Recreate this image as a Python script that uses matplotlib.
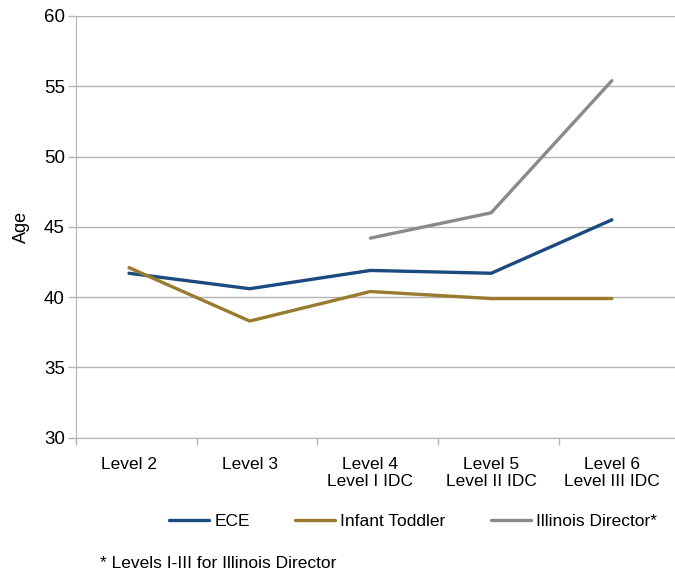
import matplotlib.pyplot as plt
import numpy as np
from matplotlib.ticker import FixedLocator

plt.rcParams['font.family'] = ['Liberation Sans', 'DejaVu Sans']

# Data
levels = ['Level 2', 'Level 3', 'Level 4\nLevel I IDC', 'Level 5\nLevel II IDC',
          'Level 6\nLevel III IDC']
ece = [41.7, 40.6, 41.9, 41.7, 45.5]
infant_toddler = [42.1, 38.3, 40.4, 39.9, 39.9]
illinois_director = [np.nan, np.nan, 44.2, 46.0, 55.4]
y_ticks = [30, 35, 40, 45, 50, 55, 60]

fig = plt.figure(figsize=(6.75, 5.71), dpi=100)
ax = fig.add_axes([0.1126, 0.2334, 0.8874, 0.7386])

x = np.arange(len(levels))
ax.plot(x, ece, color='#1b4a80', lw=2.4, solid_capstyle='round', label='ECE', zorder=3)
ax.plot(x, infant_toddler, color='#9a7a2e', lw=2.4, solid_capstyle='round',
        label='Infant Toddler', zorder=3)
ax.plot(x, illinois_director, color='#8a8a8a', lw=2.4, solid_capstyle='round',
        label='Illinois Director*', zorder=3)

# Axes limits and ticks
ax.set_xlim(-0.439, 4.523)
ax.set_ylim(30, 60)
ax.set_yticks(y_ticks)
ax.set_xticks(x)
ax.set_xticklabels(levels, fontsize=12.5, linespacing=1.15)
ax.tick_params(axis='x', length=0, pad=14)
ax.xaxis.set_minor_locator(FixedLocator(np.arange(-0.439, 4.5, 1.0)))
ax.tick_params(axis='x', which='minor', length=5, color='#b3b3b3', width=1)
ax.tick_params(axis='y', length=6, color='#b3b3b3', width=1, labelsize=13.5, pad=2)

# Grid and spines
ax.grid(True, axis='y', color='#b3b3b3', lw=1)
ax.set_axisbelow(True)
for side in ['top', 'right']:
    ax.spines[side].set_visible(False)
ax.spines['left'].set_color('#b3b3b3')
ax.spines['bottom'].set_color('#b3b3b3')

ax.set_ylabel('Age', fontsize=13, labelpad=10)

# Legend and footnote
fig.legend(loc='center', bbox_to_anchor=(0.612, 0.086), ncol=3, frameon=False,
           fontsize=12.5, handlelength=2.3, handletextpad=0.3, columnspacing=2.6)
fig.text(0.148, 0.006, '* Levels I-III for Illinois Director', fontsize=12.5)

fig.savefig('out.png', dpi=100)
